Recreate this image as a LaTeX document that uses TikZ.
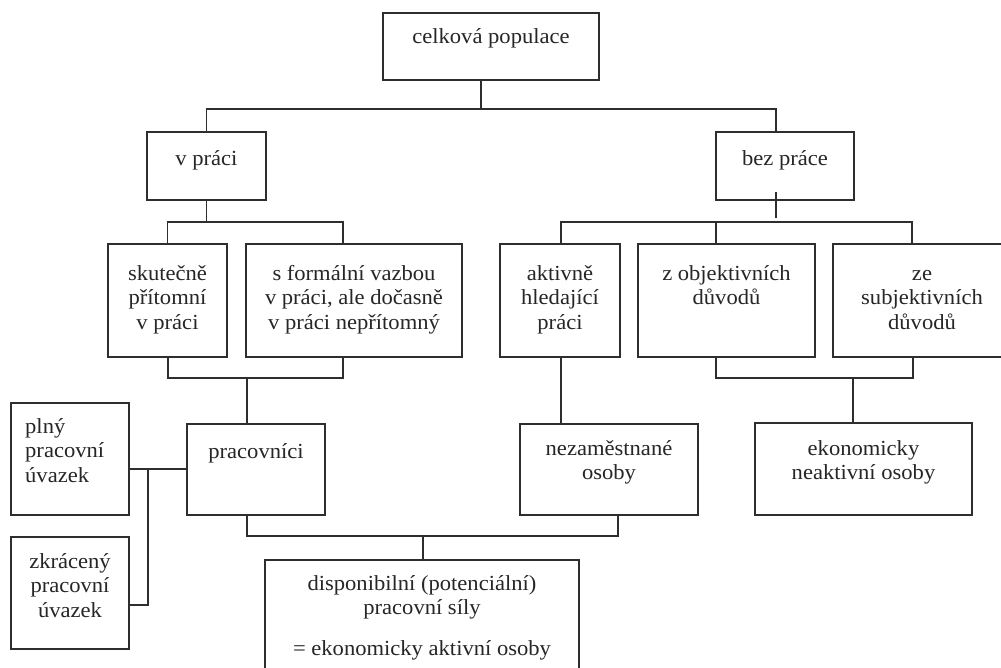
\documentclass[tikz,border=0pt]{standalone}
\usepackage{fontspec}
\setmainfont{Liberation Serif}[FakeStretch=1.05]
\definecolor{linec}{HTML}{2E2E2E}
\definecolor{txtc}{HTML}{262626}
\begin{document}
\begin{tikzpicture}[x=1pt,y=-1pt,
  box/.style={draw=linec, line width=1.4pt, rectangle, inner sep=0pt},
  txt/.style={text=txtc, inner sep=0pt, align=center, anchor=north, font=\fontsize{21.5}{24.5}\selectfont},
  txtl/.style={text=txtc, inner sep=0pt, align=left, anchor=north west, font=\fontsize{21.5}{24.5}\selectfont},
  conn/.style={draw=linec, line width=1.4pt, line cap=rect}]
\useasboundingbox (0,0) rectangle (1001,668);
\fill[white] (0,0) rectangle (1001,668);
\clip (0,0) rectangle (1001,668);

% boxes
\node[box, minimum width=216pt, minimum height=67pt] (cp) at (491,46.5) {};
\node[box, minimum width=119pt, minimum height=68pt] (vprace) at (206.5,166) {};
\node[box, minimum width=138pt, minimum height=68pt] (bez) at (785,166) {};
\node[box, minimum width=119pt, minimum height=113pt] (sk) at (167.5,300.5) {};
\node[box, minimum width=216pt, minimum height=113pt] (sf) at (354,300.5) {};
\node[box, minimum width=120pt, minimum height=113pt] (ak) at (560,300.5) {};
\node[box, minimum width=177pt, minimum height=113pt] (zo) at (726.5,300.5) {};
\node[box, minimum width=178pt, minimum height=113pt] (zs) at (922,300.5) {};
\node[box, minimum width=118pt, minimum height=112pt] (pl) at (70,459) {};
\node[box, minimum width=118pt, minimum height=112pt] (zk) at (70,593) {};
\node[box, minimum width=138pt, minimum height=91pt] (pr) at (256,469.5) {};
\node[box, minimum width=178pt, minimum height=91pt] (nz) at (609,469.5) {};
\node[box, minimum width=217pt, minimum height=92pt] (ek) at (863.5,469) {};
\node[box, minimum width=314pt, minimum height=130pt] (dp) at (422,625) {};

% texts (first baseline = north + 17.15)
\node[txt] (tcp) at (491,25.85) {\strut celková populace};
\node[txt] (tvprace) at (206.5,147.85) {\strut v práci};
\node[txt] (tbez) at (785,147.85) {\strut bez práce};
\node[txt] (tsk) at (167.5,262.85) {\strut skutečně\\přítomní\\v práci};
\node[txt] (tsf) at (354,262.85) {\strut s formální vazbou\\v práci, ale dočasně\\v práci nepřítomný};
\node[txt] (tak) at (560,262.85) {\strut aktivně\\hledající\\práci};
\node[txt] (tzo) at (726.5,262.85) {\strut z objektivních\\důvodů};
\node[txt] (tzs) at (922,262.85) {\strut ze\\subjektivních\\důvodů};
\node[txtl] (tpl) at (25,415.85) {\strut plný\\pracovní\\úvazek};
\node[txt] (tzk) at (70,550.85) {\strut zkrácený\\pracovní\\úvazek};
\node[txt] (tpr) at (256,440.85) {\strut pracovníci};
\node[txt] (tnz) at (609,437.85) {\strut nezaměstnané\\osoby};
\node[txt] (tek) at (863.5,437.85) {\strut ekonomicky\\neaktivní osoby};
\node[txt] (tdp) at (422,572.85) {\strut disponibilní (potenciální)\\pracovní síly\\[16pt]= ekonomicky aktivní osoby};

% junction coordinates
\coordinate (j0) at (481,109);
\coordinate (b0) at (776,109);
\coordinate (j1) at (207,222);
\coordinate (sfs) at (343,222);
\coordinate (b1) at (776,193);
\coordinate (b2) at (776,217);
\coordinate (r1) at (561,222);
\coordinate (r2) at (716,222);
\coordinate (r3) at (912,222);
\coordinate (k1) at (168,378);
\coordinate (k2) at (343,378);
\coordinate (k3) at (247,378);
\coordinate (m1) at (716,378);
\coordinate (m2) at (913,378);
\coordinate (m3) at (853,378);
\coordinate (p1) at (148,469);
\coordinate (p2) at (148,605);
\coordinate (q1) at (247,536);
\coordinate (q2) at (618,536);
\coordinate (q3) at (423,536);

% connectors
\draw[conn] (cp.south -| j0) -- (j0);
\draw[conn] (vprace.north) |- (b0) -- (b0 |- bez.north);
\draw[conn] (vprace.south) -- (vprace.south |- j1);
\draw[conn] (sk.north) |- (sfs) -- (sfs |- sf.north);
\draw[conn] (b1) -- (b2);
\draw[conn] (r1 |- ak.north) -- (r1) -- (r3) -- (r3 |- zs.north);
\draw[conn] (r2) -- (r2 |- zo.north);
\draw[conn] (k1 |- sk.south) -- (k1) -- (k2) -- (k2 |- sf.south);
\draw[conn] (k3) -- (k3 |- pr.north);
\draw[conn] (r1 |- ak.south) -- (r1 |- nz.north);
\draw[conn] (m1 |- zo.south) -- (m1) -- (m2) -- (m2 |- zs.south);
\draw[conn] (m3) -- (m3 |- ek.north);
\draw[conn] (pl.east |- p1) -- (pr.west |- p1);
\draw[conn] (p1) -- (p2) -- (zk.east |- p2);
\draw[conn] (q1 |- pr.south) -- (q1) -- (q2) -- (q2 |- nz.south);
\draw[conn] (q3) -- (q3 |- dp.north);
\end{tikzpicture}
\end{document}
